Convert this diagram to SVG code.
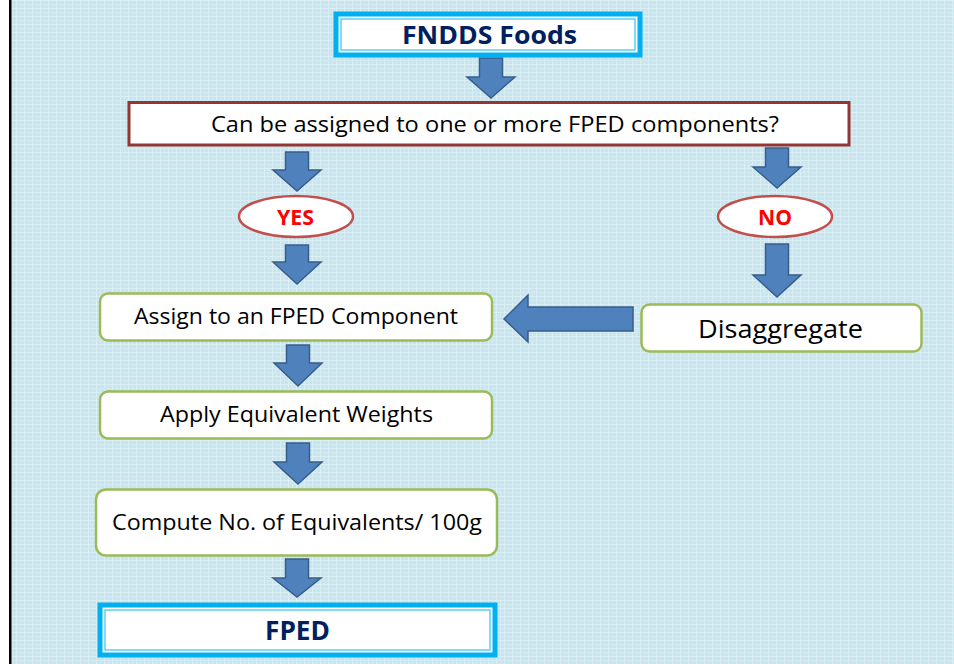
<svg xmlns="http://www.w3.org/2000/svg" width="954" height="664" viewBox="0 0 954 664">
<defs>
<pattern id="grid" width="8" height="8" patternUnits="userSpaceOnUse">
<rect width="8" height="8" fill="#c6e5ee"/>
<rect x="0" y="0" width="1" height="8" fill="#dbeff5"/>
<rect x="0" y="0" width="8" height="1" fill="#dbeff5"/>
<rect x="4" y="0" width="1" height="8" fill="#d2ebf2"/>
<rect x="0" y="4" width="8" height="1" fill="#d2ebf2"/>
</pattern>
<style>
.arrow{fill:#4f81bd;stroke:#385d8a;stroke-width:1.5;stroke-linejoin:miter}
.txt{font-family:"Open Sans",Lato,"Liberation Sans",sans-serif;fill:#000;text-anchor:middle;dominant-baseline:central}
.bold{font-weight:bold;fill:#002060}
.red{font-weight:bold;fill:#ff0000}
.green{fill:#fff;stroke:#9bbb59;stroke-width:2.5}
.oval{fill:#fff;stroke:#c0504d;stroke-width:2.5}
.outer{fill:#fff;stroke:#00b0f0;stroke-width:5}
.inner{fill:none;stroke:#33c3f3;stroke-width:1.2}
</style>
</defs>
<rect width="954" height="664" fill="#fff"/>
<rect x="11" y="0" width="943" height="664" fill="url(#grid)"/>
<rect x="9" y="0" width="2.5" height="664" fill="#000"/>

<g id="connectors">
<path class="arrow" d="M479.5,58 H502.5 V77 H515 L491,98 L467,77 H479.5 Z"/>
<path class="arrow" d="M285.5,152 H308.5 V170 H321 L297,191 L273,170 H285.5 Z"/>
<path class="arrow" d="M765.5,148 H788.5 V167 H801 L777,188 L753,167 H765.5 Z"/>
<path class="arrow" d="M285.5,245 H308.5 V262 H321 L297,284 L273,262 H285.5 Z"/>
<path class="arrow" d="M765.5,244 H788.5 V275 H801 L777,297 L753,275 H765.5 Z"/>
<path class="arrow" d="M286.5,345 H309.5 V363 H322 L298,386 L274,363 H286.5 Z"/>
<path class="arrow" d="M286.5,443 H309.5 V462 H322 L298,484 L274,462 H286.5 Z"/>
<path class="arrow" d="M285.5,559 H308.5 V578 H321 L297,597 L273,578 H285.5 Z"/>
<path class="arrow" d="M633,307 V331 H528 V342 L504,319 L528,295 V307 Z"/>
</g>

<g id="fndds">
<rect class="outer" x="336" y="14" width="304" height="41"/>
<rect class="inner" x="341" y="19" width="294" height="31"/>
<text class="txt bold" x="489.5" y="34" font-size="25.5" textLength="175" lengthAdjust="spacingAndGlyphs">FNDDS Foods</text>
</g>

<g id="question">
<rect x="129" y="102.5" width="720" height="42.5" fill="#fff" stroke="#943634" stroke-width="3"/>
<text class="txt" x="495" y="124" font-size="21" textLength="568" lengthAdjust="spacingAndGlyphs">Can be assigned to one or more FPED components?</text>
</g>

<g id="yes">
<ellipse class="oval" cx="296" cy="216.5" rx="57" ry="20.5"/>
<text class="txt red" x="295.5" y="216" font-size="22" textLength="37" lengthAdjust="spacingAndGlyphs">YES</text>
</g>

<g id="no">
<ellipse class="oval" cx="775" cy="216.5" rx="57" ry="20.5"/>
<text class="txt red" x="775" y="216" font-size="22" textLength="34" lengthAdjust="spacingAndGlyphs">NO</text>
</g>

<g id="assign">
<rect class="green" x="100" y="293.5" width="392" height="47" rx="8"/>
<text class="txt" x="296" y="316" font-size="21" textLength="324" lengthAdjust="spacingAndGlyphs">Assign to an FPED Component</text>
</g>

<g id="disaggregate">
<rect class="green" x="641.5" y="304.5" width="280" height="47" rx="8"/>
<text class="txt" x="780.5" y="328" font-size="26" textLength="165" lengthAdjust="spacingAndGlyphs">Disaggregate</text>
</g>

<g id="apply">
<rect class="green" x="100" y="391.5" width="392" height="47" rx="8"/>
<text class="txt" x="296.5" y="414" font-size="21" textLength="273" lengthAdjust="spacingAndGlyphs">Apply Equivalent Weights</text>
</g>

<g id="compute">
<rect class="green" x="96" y="489.5" width="401" height="66" rx="10"/>
<text class="txt" x="297" y="522" font-size="21" textLength="370" lengthAdjust="spacingAndGlyphs">Compute No. of Equivalents/ 100g</text>
</g>

<g id="fped">
<rect class="outer" x="100" y="605" width="395" height="50"/>
<rect class="inner" x="105" y="610" width="385" height="40"/>
<text class="txt bold" x="297.5" y="630" font-size="26.5" textLength="65" lengthAdjust="spacingAndGlyphs">FPED</text>
</g>
</svg>
